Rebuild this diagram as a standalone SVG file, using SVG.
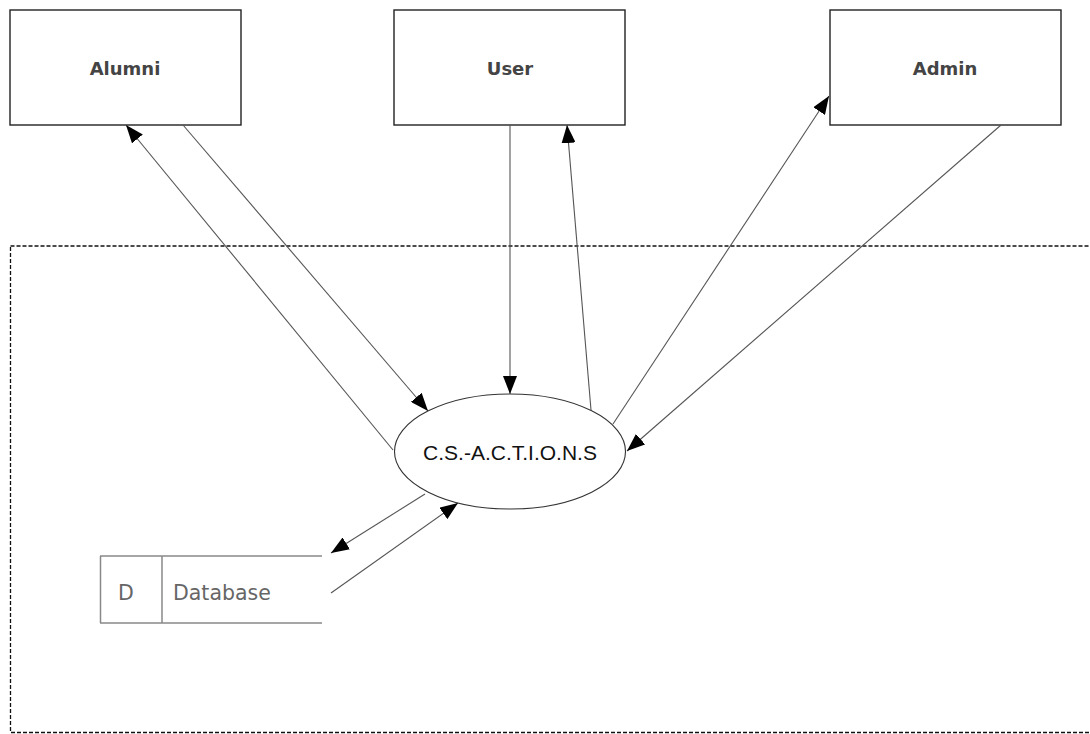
<svg xmlns="http://www.w3.org/2000/svg" width="1090" height="734" viewBox="0 0 1090 734">
<defs>
<marker id="ah" markerUnits="userSpaceOnUse" markerWidth="20" markerHeight="14" refX="18" refY="7" orient="auto">
<path d="M0,0 L18,7 L0,14 z" fill="#000"/>
</marker>
<style>
.ent{fill:#fff;stroke:#222;stroke-width:1.4}
.lbl{font-family:"DejaVu Sans",Verdana,sans-serif;font-size:18px;font-weight:bold;fill:#444;text-anchor:middle}
.ln{stroke:#555;stroke-width:1.1;fill:none}
.ds{stroke:#888;stroke-width:1.5;fill:none}
.dt{font-family:"DejaVu Sans",Verdana,sans-serif;font-size:20.5px;fill:#666}
</style>
</defs>
<rect width="1090" height="734" fill="#fff"/>
<rect id="boundary" x="10.5" y="246" width="1100" height="486.5" fill="none" stroke="#111" stroke-width="1.3" stroke-dasharray="4 2"/>
<g id="alumni">
<rect class="ent" x="10" y="10" width="231" height="115"/>
<text class="lbl" x="125" y="75">Alumni</text>
</g>
<g id="user">
<rect class="ent" x="394" y="10" width="231" height="115"/>
<text class="lbl" x="510" y="75">User</text>
</g>
<g id="admin">
<rect class="ent" x="830" y="10" width="231" height="115"/>
<text class="lbl" x="945" y="75">Admin</text>
</g>
<g id="process">
<ellipse cx="510" cy="451.5" rx="115.5" ry="57.5" fill="#fff" stroke="#333" stroke-width="1.1"/>
<text x="510" y="460" font-family="'Liberation Sans',Arial,sans-serif" font-size="21px" fill="#111" text-anchor="middle">C.S.-A.C.T.I.O.N.S</text>
</g>
<g id="database">
<line class="ds" x1="100" y1="556" x2="322" y2="556"/>
<line class="ds" x1="100" y1="623" x2="322" y2="623"/>
<line class="ds" x1="100.5" y1="556" x2="100.5" y2="623"/>
<line class="ds" x1="162" y1="556" x2="162" y2="623"/>
<text class="dt" x="126" y="600" text-anchor="middle">D</text>
<text class="dt" x="173" y="600">Database</text>
</g>
<g id="connectors">
<line class="ln" x1="393" y1="450" x2="126" y2="125" marker-end="url(#ah)"/>
<line class="ln" x1="183" y1="125" x2="428" y2="411" marker-end="url(#ah)"/>
<line class="ln" x1="510" y1="125" x2="510" y2="394" stroke="#000" stroke-width="1.4" marker-end="url(#ah)"/>
<line class="ln" x1="591" y1="410" x2="567" y2="125" marker-end="url(#ah)"/>
<line class="ln" x1="613" y1="424" x2="829" y2="96" marker-end="url(#ah)"/>
<line class="ln" x1="1001" y1="125" x2="627" y2="451" marker-end="url(#ah)"/>
<line class="ln" x1="425" y1="494" x2="331" y2="553" marker-end="url(#ah)"/>
<line class="ln" x1="331" y1="593" x2="458" y2="503" marker-end="url(#ah)"/>
</g>
</svg>
